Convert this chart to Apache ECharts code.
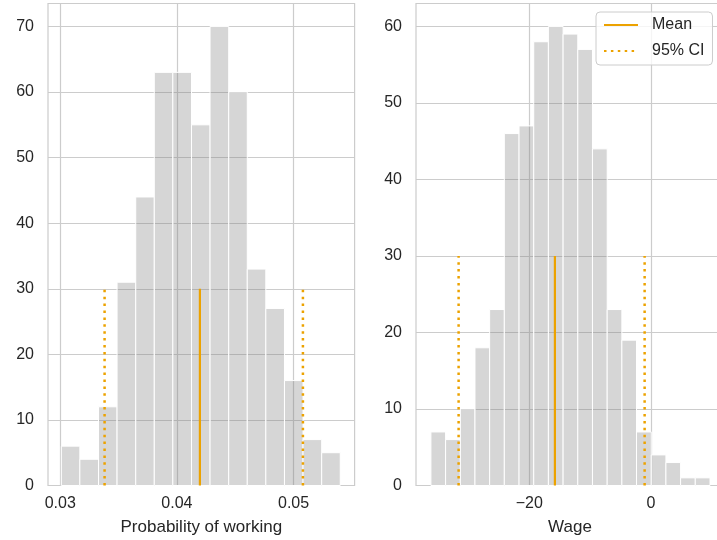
<!DOCTYPE html>
<html>
<head>
<meta charset="utf-8">
<script src="https://cdn.jsdelivr.net/npm/echarts@6/dist/echarts.min.js"></script>
<style>html,body{margin:0;padding:0;background:#fff}#c{width:717px;height:540px}</style>
</head>
<body>
<div id="c"></div>
<script>
// Left histogram: probability of working
const probEdges = [0.03009, 0.03168, 0.03328, 0.03487, 0.03647, 0.03806, 0.03965, 0.04125,
  0.04284, 0.04444, 0.04603, 0.04762, 0.04922, 0.05081, 0.05241, 0.05400];
const probCounts = [6, 4, 12, 31, 44, 63, 63, 55, 70, 60, 33, 27, 16, 7, 5];
const probMean = 0.04197;
const probCI = [0.0338, 0.0508];
const probTicks = [0.03, 0.04, 0.05];
const probYTicks = [0, 10, 20, 30, 40, 50, 60, 70];

// Right histogram: wage
const wageEdges = [-36.15, -33.74, -31.32, -28.91, -26.50, -24.09, -21.67, -19.26, -16.85, -14.43,
  -12.02, -9.61, -7.19, -4.78, -2.37, 0.05, 2.46, 4.87, 7.28, 9.70];
const wageCounts = [7, 6, 10, 18, 23, 46, 47, 58, 60, 59, 57, 44, 23, 19, 7, 4, 3, 1, 1];
const wageMean = -15.78;
const wageCI = [-31.6, -1.04];
const wageTicks = [-20, 0];
const wageYTicks = [0, 10, 20, 30, 40, 50, 60];

const lineTop = 30;

const ORANGE = '#eca200';
const TXT = '#262626';
const GRIDC = '#cccccc';
const FONT = '"Liberation Sans", Arial, sans-serif';

function bins(edges, counts) {
  return counts.map((c, i) => [edges[i], edges[i + 1], c]);
}

function renderBar(params, api) {
  const p0 = api.coord([api.value(0), api.value(2)]);
  const p1 = api.coord([api.value(1), 0]);
  return {
    type: 'rect',
    shape: { x: p0[0], y: p0[1], width: p1[0] - p0[0], height: p1[1] - p0[1] },
    style: { fill: 'rgba(128,128,128,0.32)', stroke: '#ffffff', lineWidth: 1 }
  };
}

function xAxisCfg(idx, min, max, ticks, name, fmt) {
  return {
    type: 'value', gridIndex: idx, min: min, max: max,
    name: name, nameLocation: 'middle', nameGap: 33,
    nameTextStyle: { fontSize: 17, color: TXT, fontFamily: FONT },
    axisLine: { show: false },
    axisTick: { show: false, customValues: ticks },
    axisLabel: { customValues: ticks, fontSize: 16, color: TXT, fontFamily: FONT, margin: 10, formatter: fmt },
    splitLine: { show: true, lineStyle: { color: GRIDC, width: 1.2 } }
  };
}

function yAxisCfg(idx, max, ticks) {
  return {
    type: 'value', gridIndex: idx, min: 0, max: max,
    axisLine: { show: false },
    axisTick: { show: false, customValues: ticks },
    axisLabel: { customValues: ticks, fontSize: 16, color: TXT, fontFamily: FONT, margin: 14 },
    splitLine: { show: true, lineStyle: { color: GRIDC, width: 1.2 } }
  };
}

function vline(name, x, idx, dotted) {
  return {
    type: 'line', name: name, xAxisIndex: idx, yAxisIndex: idx,
    data: [[x, 0], [x, lineTop]], symbol: 'none', z: 5, silent: true,
    lineStyle: { color: ORANGE, width: dotted ? 2.5 : 2.2, type: dotted ? [2.5, 4.4] : 'solid' },
    itemStyle: { color: ORANGE }
  };
}

const chart = echarts.init(document.getElementById('c'), null, { renderer: 'canvas' });
chart.setOption({
  animation: false,
  backgroundColor: '#ffffff',
  textStyle: { fontFamily: FONT },
  grid: [
    { left: 48, top: 3.5, width: 306.6, height: 482, outerBoundsMode: 'none', containLabel: false,
      show: true, borderColor: GRIDC, borderWidth: 1.2, backgroundColor: 'transparent' },
    { left: 416, top: 3.5, width: 308, height: 482, outerBoundsMode: 'none', containLabel: false,
      show: true, borderColor: GRIDC, borderWidth: 1.2, backgroundColor: 'transparent' }
  ],
  xAxis: [
    xAxisCfg(0, 0.02895, 0.05523, probTicks, 'Probability of working', v => v.toFixed(2)),
    xAxisCfg(1, -38.6, 12.0, wageTicks, 'Wage', v => String(Math.round(v)).replace('-', '\u2212'))
  ],
  yAxis: [
    yAxisCfg(0, 73.5, probYTicks),
    yAxisCfg(1, 63, wageYTicks)
  ],
  legend: {
    show: true, orient: 'vertical', left: 596, top: 12,
    data: ['Mean', '95% CI'],
    padding: [5, 8, 6, 7],
    itemWidth: 34, itemHeight: 14, itemGap: 10,
    itemStyle: { opacity: 0 },
    backgroundColor: 'rgba(255,255,255,0.8)',
    borderColor: GRIDC, borderWidth: 1, borderRadius: 4,
    textStyle: { fontSize: 16, color: TXT, fontFamily: FONT, padding: [0, 0, 0, 9] }
  },
  series: [
    { type: 'custom', name: 'prob', xAxisIndex: 0, yAxisIndex: 0, renderItem: renderBar,
      encode: { x: [0, 1], y: 2 }, data: bins(probEdges, probCounts), z: 2, silent: true },
    { type: 'custom', name: 'wage', xAxisIndex: 1, yAxisIndex: 1, renderItem: renderBar,
      encode: { x: [0, 1], y: 2 }, data: bins(wageEdges, wageCounts), z: 2, silent: true },
    vline('Mean', probMean, 0, false),
    vline('95% CI', probCI[0], 0, true),
    vline('95% CI', probCI[1], 0, true),
    vline('Mean', wageMean, 1, false),
    vline('95% CI', wageCI[0], 1, true),
    vline('95% CI', wageCI[1], 1, true)
  ]
});
</script>
</body>
</html>
